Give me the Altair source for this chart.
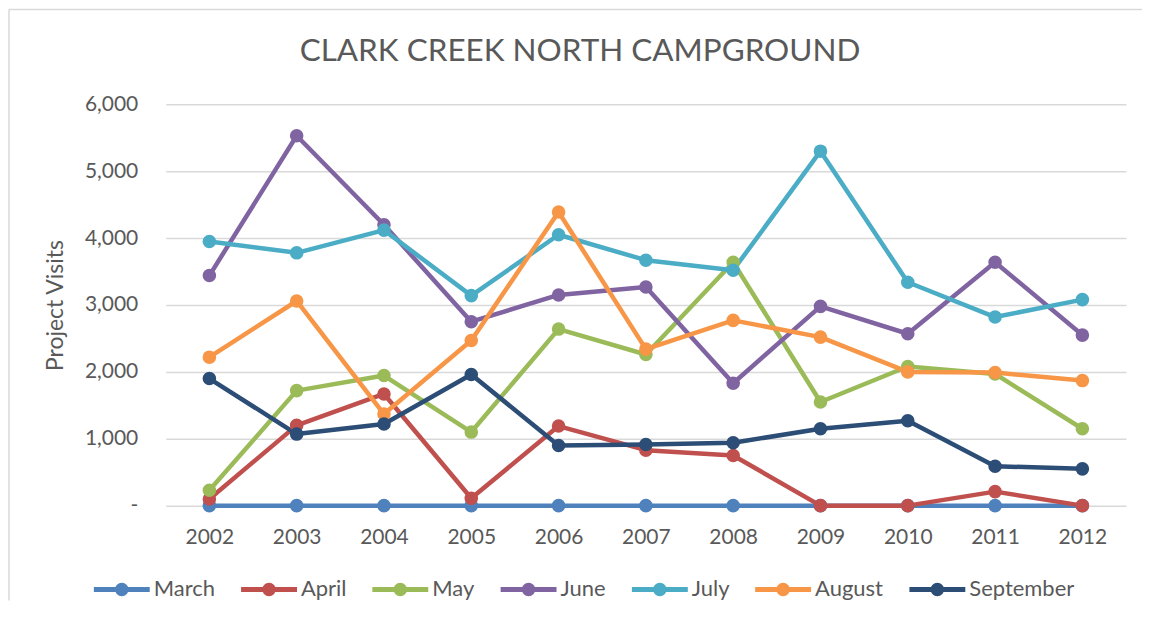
import altair as alt
import pandas as pd

years = ["2002", "2003", "2004", "2005", "2006", "2007", "2008", "2009", "2010", "2011", "2012"]
series = ["March", "April", "May", "June", "July", "August", "September"]
march = [0, 0, 0, 0, 0, 0, 0, 0, 0, 0, 0]
april = [100, 1200, 1670, 110, 1190, 830, 750, 0, 0, 210, 0]
may = [230, 1720, 1945, 1100, 2640, 2260, 3640, 1550, 2080, 1970, 1150]
june = [3440, 5530, 4200, 2750, 3150, 3270, 1830, 2980, 2570, 3640, 2550]
july = [3950, 3780, 4120, 3140, 4050, 3670, 3520, 5300, 3340, 2820, 3080]
august = [2220, 3060, 1370, 2470, 4390, 2340, 2770, 2520, 2000, 1990, 1870]
september = [1900, 1070, 1220, 1960, 900, 915, 940, 1150, 1270, 590, 550]
colors = ["#4F81BD", "#C0504D", "#9BBB59", "#8064A2", "#4BACC6", "#F79646", "#2C4D75"]
y_ticks = [0, 1000, 2000, 3000, 4000, 5000, 6000]

values = [march, april, may, june, july, august, september]
rows = []
for si, (name, vals) in enumerate(zip(series, values)):
    for y, v in zip(years, vals):
        rows.append({"year": y, "series": name, "visits": v, "k": si})
df = pd.DataFrame(rows)

FONT = "Lato"
GRAY_TXT = "#595959"
GRID = "#d9d9d9"

legend_path = (
    "M-1,-0.09 L1,-0.09 L1,0.09 L-1,0.09 Z "
    "M0.24,0 A0.24,0.24 0 1,1 -0.24,0 A0.24,0.24 0 1,1 0.24,0 Z"
)

x_enc = alt.X(
    "year:O",
    sort=years,
    scale=alt.Scale(type="point", padding=0.5),
    axis=alt.Axis(
        title=None, labelAngle=0, ticks=False, domain=False, grid=False,
        labelFont=FONT, labelFontSize=21, labelColor=GRAY_TXT, labelPadding=21,
    ),
)
y_enc = alt.Y(
    "visits:Q",
    scale=alt.Scale(domain=[0, 6000], nice=False, zero=True),
    axis=alt.Axis(
        title="Project Visits", values=y_ticks, ticks=False, domain=False,
        grid=True, gridColor=GRID, gridWidth=1.5,
        labelExpr="datum.value == 0 ? '-\u00a0\u00a0\u00a0' : format(datum.value, ',')",
        labelFont=FONT, labelFontSize=21, labelColor=GRAY_TXT, labelPadding=28,
        titleFont=FONT, titleFontSize=23, titleFontWeight="normal", titleColor=GRAY_TXT,
        titleX=-110, titleY=201, titleAngle=270, titleAlign="center", titleBaseline="middle",
    ),
)

color_scale = alt.Scale(domain=series, range=colors)
legend = alt.Legend(
    title=None, orient="none", legendX=-72, legendY=458, direction="horizontal",
    symbolType=legend_path, symbolSize=3136, symbolStrokeWidth=0, symbolOpacity=1,
    labelFont=FONT, labelFontSize=22, labelColor=GRAY_TXT, labelOffset=4,
    columnPadding=25.5, columns=7,
)
color_enc = alt.Color("series:N", scale=color_scale, sort=series, legend=legend)

lines = alt.Chart(df).mark_line(strokeWidth=4.5, strokeJoin="round", strokeCap="round").encode(
    x=x_enc, y=y_enc, color=color_enc, order=alt.Order("k:Q"),
)

points = alt.Chart(df).mark_point(filled=True, size=185, opacity=1).encode(
    x=x_enc, y=y_enc, color=color_enc, order=alt.Order("k:Q"),
)

border_top = alt.Chart(pd.DataFrame({"a": [0]})).mark_rule(color=GRID, strokeWidth=1.5).encode(
    x=alt.value(-157), x2=alt.value(978), y=alt.value(-95)
)
border_left = alt.Chart(pd.DataFrame({"a": [0]})).mark_rule(color=GRID, strokeWidth=1.5).encode(
    x=alt.value(-157), y=alt.value(-95), y2=alt.value(497)
)

chart = alt.layer(border_top, border_left, lines, points).properties(
    width=962,
    height=402,
    padding=0,
    title=alt.TitleParams(
        "CLARK CREEK NORTH CAMPGROUND", font=FONT, fontSize=31.5, fontWeight="normal",
        color=GRAY_TXT, anchor="middle", dx=-66, dy=79, offset=20,
    ),
    background="white",
).configure_view(stroke=None).configure_legend(symbolFillColor="#000000")

chart.save("out.html", embed_options={"renderer": "svg", "actions": False})
